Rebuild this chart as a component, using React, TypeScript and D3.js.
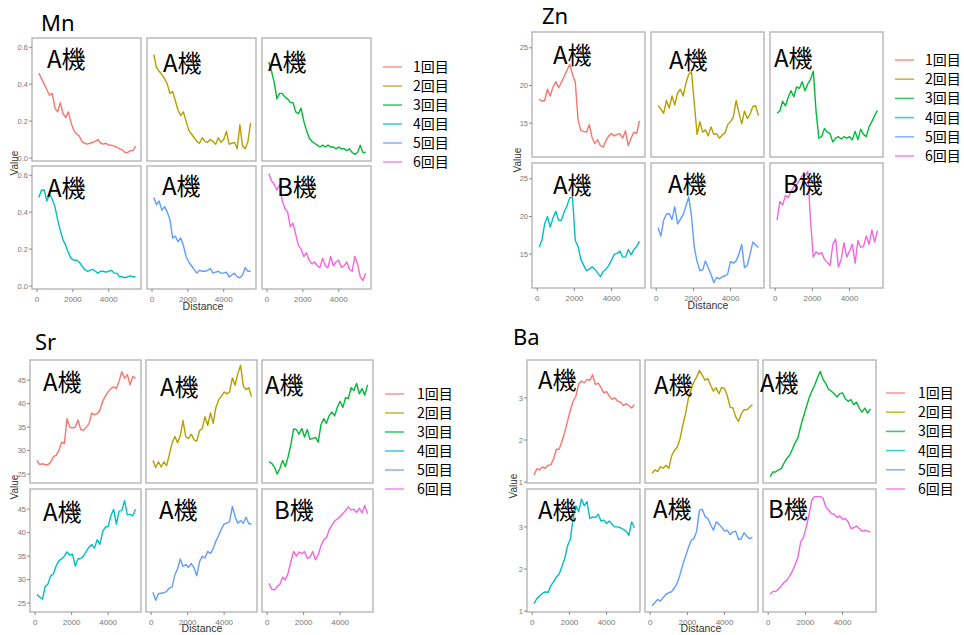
import * as d3 from 'd3'

// distance along the sample (common x for every run)
const distance = [
  100, 250, 400, 550, 700, 850, 1000, 1150, 1300, 1450, 1600, 1750, 1900, 2050, 2200, 2350, 2500, 2650, 2800,
  2950, 3100, 3250, 3400, 3550, 3700, 3850, 4000, 4150, 4300, 4450, 4600, 4750, 4900, 5050, 5200, 5350, 5500,
]

const runs = ['1回目', '2回目', '3回目', '4回目', '5回目', '6回目']
const machines = ['A機', 'A機', 'A機', 'A機', 'A機', 'B機']
const colors = ['#F8766D', '#B79F00', '#00BA38', '#00BFC4', '#619CFF', '#F564E3']
const xTicks = [0, 2000, 4000]

const mnValues = [
  [0.46, 0.43, 0.4, 0.37, 0.34, 0.35, 0.27, 0.25, 0.3, 0.24, 0.22, 0.25, 0.19, 0.15, 0.13, 0.12, 0.09, 0.08, 0.075, 0.08, 0.085, 0.09, 0.1, 0.08, 0.075, 0.08, 0.07, 0.07, 0.065, 0.06, 0.05, 0.045, 0.03, 0.03, 0.04, 0.04, 0.065],
  [0.56, 0.49, 0.47, 0.45, 0.43, 0.4, 0.35, 0.36, 0.31, 0.26, 0.23, 0.25, 0.2, 0.15, 0.13, 0.11, 0.09, 0.08, 0.11, 0.09, 0.085, 0.1, 0.09, 0.075, 0.11, 0.085, 0.1, 0.145, 0.075, 0.08, 0.085, 0.05, 0.18, 0.065, 0.05, 0.09, 0.19],
  [0.52, 0.47, 0.41, 0.32, 0.35, 0.35, 0.33, 0.32, 0.3, 0.3, 0.25, 0.24, 0.27, 0.2, 0.15, 0.11, 0.09, 0.08, 0.07, 0.06, 0.07, 0.06, 0.07, 0.06, 0.06, 0.05, 0.06, 0.05, 0.05, 0.04, 0.05, 0.03, 0.02, 0.03, 0.07, 0.03, 0.03],
  [0.48, 0.52, 0.52, 0.46, 0.5, 0.47, 0.43, 0.36, 0.3, 0.25, 0.22, 0.18, 0.15, 0.14, 0.14, 0.13, 0.11, 0.09, 0.08, 0.085, 0.09, 0.08, 0.07, 0.08, 0.08, 0.075, 0.08, 0.085, 0.07, 0.07, 0.05, 0.05, 0.045, 0.05, 0.055, 0.05, 0.05],
  [0.48, 0.44, 0.46, 0.41, 0.43, 0.4, 0.36, 0.26, 0.27, 0.24, 0.26, 0.22, 0.16, 0.13, 0.11, 0.09, 0.07, 0.085, 0.08, 0.08, 0.085, 0.095, 0.07, 0.075, 0.08, 0.07, 0.07, 0.075, 0.05, 0.06, 0.07, 0.05, 0.045, 0.06, 0.1, 0.08, 0.08],
  [0.61, 0.57, 0.55, 0.52, 0.55, 0.46, 0.42, 0.4, 0.32, 0.34, 0.28, 0.22, 0.2, 0.16, 0.18, 0.14, 0.12, 0.13, 0.11, 0.1, 0.15, 0.11, 0.1, 0.16, 0.11, 0.13, 0.14, 0.1, 0.11, 0.13, 0.09, 0.08, 0.16, 0.12, 0.05, 0.03, 0.07],
]

const znValues = [
  [18.2, 17.9, 18.0, 19.5, 18.6, 19.8, 20.5, 19.7, 20.4, 21.2, 22.0, 22.8, 21.5, 20.4, 15.4, 14.0, 13.9, 13.8, 14.8, 13.1, 12.3, 12.8, 12.0, 11.8, 12.7, 13.3, 13.6, 13.3, 13.5, 13.6, 13.0, 14.0, 12.0, 13.0, 13.8, 13.6, 15.3],
  [17.3, 16.9, 16.3, 18.0, 17.0, 18.6, 17.4, 19.0, 19.5, 18.6, 20.3, 21.5, 21.8, 17.6, 13.5, 15.2, 13.8, 14.1, 13.3, 14.5, 13.5, 13.6, 13.0, 13.4, 13.7, 14.8, 15.2, 15.8, 18.0, 16.4, 14.9, 16.6, 15.6, 16.2, 17.2, 17.3, 16.0],
  [16.3, 16.6, 17.9, 17.3, 18.4, 19.3, 18.5, 19.8, 19.6, 20.5, 19.3, 20.2, 20.8, 21.9, 16.5, 13.0, 13.2, 14.3, 13.8, 13.6, 12.5, 13.0, 13.2, 12.9, 13.2, 13.0, 13.2, 12.8, 13.9, 12.8, 14.2, 13.5, 13.2, 14.5, 15.2, 16.0, 16.7],
  [15.9, 16.8, 19.0, 20.0, 18.6, 19.8, 20.7, 19.5, 19.5, 20.6, 21.4, 22.5, 22.5, 16.8, 16.0, 14.3, 13.5, 12.8, 13.0, 13.3, 13.0, 12.5, 12.0, 12.7, 13.0, 13.5, 14.2, 15.0, 15.1, 15.4, 14.6, 14.6, 15.6, 14.9, 15.6, 16.0, 16.7],
  [18.5, 17.4, 19.5, 20.3, 20.4, 19.6, 21.3, 19.0, 19.6, 20.2, 21.4, 22.6, 20.0, 15.9, 14.0, 12.8, 12.9, 14.1, 13.2, 12.3, 11.2, 11.9, 11.7, 12.0, 12.1, 12.4, 14.0, 13.8, 14.1, 15.0, 16.3, 13.2, 13.5, 15.0, 16.6, 16.2, 15.9],
  [19.5, 22.0, 21.5, 22.8, 22.5, 23.3, 24.0, 24.2, 24.8, 25.4, 25.4, 26.0, 19.5, 14.6, 15.3, 15.0, 15.2, 14.3, 13.9, 13.5, 16.3, 17.0, 13.3, 14.3, 16.5, 14.6, 15.4, 16.3, 13.8, 16.8, 15.9, 16.0, 17.4, 16.3, 18.2, 16.6, 18.1],
]

const srValues = [
  [27.9, 27.0, 27.2, 27.0, 27.0, 27.5, 28.7, 29.0, 30.0, 31.8, 31.5, 36.8, 35.0, 34.8, 35.0, 36.5, 34.5, 34.3, 35.0, 35.7, 38.0, 37.6, 37.9, 38.6, 40.5, 41.6, 42.5, 43.2, 43.6, 43.2, 44.8, 46.8, 45.4, 46.2, 44.0, 45.8, 45.4],
  [27.9, 26.4, 27.6, 26.5, 27.6, 26.8, 29.2, 31.6, 33.0, 31.7, 33.2, 36.4, 32.9, 32.6, 33.5, 32.3, 32.0, 34.2, 34.7, 37.2, 35.4, 38.0, 35.8, 39.2, 40.8, 41.6, 42.5, 42.1, 42.5, 45.5, 43.9, 46.4, 48.2, 43.8, 43.0, 43.4, 41.5],
  [27.6, 27.3, 26.5, 25.0, 26.2, 27.9, 26.6, 28.7, 31.2, 34.6, 34.5, 33.5, 34.7, 32.9, 34.5, 32.4, 32.6, 32.8, 31.8, 35.5, 36.8, 35.8, 37.5, 38.2, 37.4, 39.3, 40.5, 39.2, 41.3, 41.1, 43.4, 42.8, 44.3, 42.1, 43.2, 41.8, 44.0],
  [26.8, 26.3, 25.8, 28.5, 29.0, 30.8, 31.2, 32.9, 34.0, 34.4, 35.0, 35.9, 35.2, 35.4, 32.9, 34.4, 34.5, 35.0, 36.0, 36.9, 37.5, 36.7, 38.5, 37.5, 40.2, 41.2, 41.3, 43.6, 45.0, 41.8, 44.6, 44.7, 46.8, 43.8, 43.9, 43.6, 45.0],
  [27.3, 25.6, 27.0, 27.1, 27.2, 27.5, 28.2, 28.4, 31.0, 32.3, 34.4, 32.8, 33.2, 32.6, 33.4, 32.5, 30.8, 33.8, 35.0, 34.6, 36.0, 35.6, 36.6, 38.2, 39.4, 40.8, 41.8, 42.0, 42.4, 45.6, 43.4, 42.0, 42.6, 42.0, 43.3, 41.9, 41.9],
  [29.2, 28.0, 27.8, 28.5, 29.0, 30.5, 29.9, 31.4, 33.8, 36.0, 35.0, 35.9, 35.5, 36.0, 34.5, 34.8, 36.0, 34.2, 35.3, 37.2, 38.5, 38.9, 40.6, 41.6, 42.5, 42.9, 43.5, 44.1, 44.7, 45.5, 44.8, 45.0, 44.3, 45.2, 44.2, 45.8, 44.0],
]

const baValues = [
  [1.17, 1.32, 1.29, 1.36, 1.33, 1.4, 1.41, 1.55, 1.78, 1.78, 1.97, 2.18, 2.45, 2.7, 2.92, 3.04, 3.33, 3.4, 3.36, 3.44, 3.42, 3.55, 3.32, 3.35, 3.25, 3.12, 3.15, 3.04, 2.97, 3.0, 2.92, 2.9, 2.82, 2.86, 2.82, 2.76, 2.84],
  [1.21, 1.29, 1.25, 1.37, 1.33, 1.4, 1.33, 1.62, 1.75, 1.83, 2.02, 2.34, 2.62, 2.98, 3.2, 3.38, 3.5, 3.65, 3.54, 3.42, 3.46, 3.3, 3.16, 3.24, 3.1, 3.25, 3.22, 3.05, 2.78, 2.76, 2.55, 2.44, 2.62, 2.72, 2.72, 2.78, 2.84],
  [1.13, 1.24, 1.24, 1.29, 1.32, 1.45, 1.56, 1.64, 1.78, 1.94, 2.05, 2.33, 2.56, 2.78, 3.0, 3.16, 3.3, 3.48, 3.63, 3.44, 3.34, 3.2, 3.16, 3.1, 3.02, 3.1, 3.12, 2.98, 2.92, 2.96, 2.84, 2.9, 2.76, 2.66, 2.76, 2.64, 2.74],
  [1.18, 1.3, 1.36, 1.42, 1.46, 1.44, 1.6, 1.7, 1.81, 1.88, 2.06, 2.25, 2.55, 2.7, 3.2, 3.5, 3.36, 3.66, 3.5, 3.6, 3.2, 3.24, 3.22, 3.3, 3.14, 3.16, 3.08, 3.14, 3.06, 3.0, 3.0, 2.98, 2.94, 2.9, 2.8, 3.12, 2.98],
  [1.13, 1.2, 1.28, 1.24, 1.32, 1.4, 1.44, 1.46, 1.55, 1.66, 1.86, 2.1, 2.3, 2.5, 2.68, 2.72, 2.9, 3.4, 3.42, 3.25, 3.2, 3.05, 2.92, 3.12, 3.06, 2.99, 2.9, 2.92, 2.82, 2.88, 2.9, 2.7, 2.72, 2.86, 2.78, 2.72, 2.75],
  [1.4, 1.47, 1.47, 1.52, 1.6, 1.68, 1.73, 1.83, 1.95, 2.1, 2.28, 2.65, 2.75, 3.0, 3.3, 3.64, 3.72, 3.72, 3.72, 3.68, 3.48, 3.4, 3.32, 3.3, 3.22, 3.26, 3.18, 3.2, 3.12, 2.96, 2.98, 3.02, 2.96, 2.9, 2.92, 2.9, 2.88],
]

interface Quad {
  name: string
  values: number[][]
  yDomain: [number, number]
  yTicks: number[]
  fmt: (v: number) => string
  title: [number, number]
  left: number
  top: number
  pw: number
  ph: number
  gx: number
  gy: number
  legend: { lineX: number; textX: number; y: number; step: number }
  valueLab: [number, number]
  distLab: [number, number]
  tags: [number, number][]
}

const quads: Quad[] = [
  {
    name: 'Mn', values: mnValues, yDomain: [-0.016, 0.65], yTicks: [0, 0.2, 0.4, 0.6], fmt: d3.format('.1f'),
    title: [41, 31], left: 32, top: 38, pw: 109, ph: 123, gx: 6, gy: 5,
    legend: { lineX: 383, textX: 413, y: 67, step: 19 },
    valueLab: [14, 163], distLab: [203, 306],
    tags: [[47, 68], [163, 72], [268, 71], [47, 197], [162, 195], [277, 196]],
  },
  {
    name: 'Zn', values: znValues, yDomain: [10.5, 27.1], yTicks: [15, 20, 25], fmt: d3.format('d'),
    title: [542, 24], left: 532, top: 32, pw: 113, ph: 125, gx: 6, gy: 6,
    legend: { lineX: 895, textX: 925, y: 60, step: 19.2 },
    valueLab: [517, 160], distLab: [708, 305],
    tags: [[553, 64], [669, 69], [774, 67], [553, 194], [668, 193], [783, 193]],
  },
  {
    name: 'Sr', values: srValues, yDomain: [23.1, 49.3], yTicks: [25, 30, 35, 40, 45], fmt: d3.format('d'),
    title: [35, 350], left: 30, top: 360, pw: 111, ph: 123, gx: 5, gy: 6,
    legend: { lineX: 385, textX: 417, y: 394, step: 19 },
    valueLab: [14, 487], distLab: [202, 628],
    tags: [[43, 391], [160, 396], [265, 394], [43, 521], [159, 519], [274, 519]],
  },
  {
    name: 'Ba', values: baValues, yDomain: [0.98, 3.9], yTicks: [1, 2, 3], fmt: d3.format('d'),
    title: [513, 345], left: 527, top: 360, pw: 113, ph: 123, gx: 5, gy: 6,
    legend: { lineX: 886, textX: 918, y: 393, step: 19.2 },
    valueLab: [513, 486], distLab: [701, 628],
    tags: [[538, 389], [654, 394], [760, 392], [538, 519], [653, 518], [768, 518]],
  },
]

const sans = '"Liberation Sans", Arial, sans-serif'
const cjk = '"Noto Sans CJK JP", "Noto Sans", sans-serif'

const Facets = ({ q }: { q: Quad }) => {
  const x = d3.scaleLinear().domain([-280, 5800]).range([0, q.pw])
  const y = d3.scaleLinear().domain(q.yDomain).range([q.ph, 0])
  const line = d3
    .line<number>()
    .x((_, i) => x(distance[i]))
    .y((d) => y(d))

  return (
    <g>
      <text x={q.title[0]} y={q.title[1]} fontFamily='"Noto Sans", sans-serif' fontSize={22} fill="#000">
        {q.name}
      </text>

      {q.values.map((vals, i) => {
        const col = i % 3
        const row = Math.floor(i / 3)
        const px = q.left + col * (q.pw + q.gx)
        const py = q.top + row * (q.ph + q.gy)
        return (
          <g key={i} transform={`translate(${px},${py})`}>
            <rect width={q.pw} height={q.ph} fill="#fff" stroke="#b5b5b5" strokeWidth={1.4} />
            <path d={line(vals) ?? ''} fill="none" stroke={colors[i]} strokeWidth={1.4} strokeLinejoin="round" />
            {col === 0 &&
              q.yTicks.map((t) => (
                <g key={t} transform={`translate(0,${y(t)})`}>
                  <line x1={-3} x2={0} stroke="#888" />
                  <text x={-4} dy="0.35em" textAnchor="end" fontFamily={sans} fontSize={7.5} fill="#777">
                    {q.fmt(t)}
                  </text>
                </g>
              ))}
            {row === 1 &&
              xTicks.map((t) => (
                <g key={t} transform={`translate(${x(t)},${q.ph})`}>
                  <line y1={0} y2={3} stroke="#888" />
                  <text y={10} dy="0.35em" textAnchor="middle" fontFamily={sans} fontSize={8} fill="#777">
                    {t}
                  </text>
                </g>
              ))}
          </g>
        )
      })}

      <text
        transform={`translate(${q.valueLab[0]},${q.valueLab[1]}) rotate(-90)`}
        textAnchor="middle"
        dy="0.35em"
        fontFamily={sans}
        fontSize={10}
        fill="#333"
      >
        Value
      </text>
      <text x={q.distLab[0]} y={q.distLab[1]} dy="0.35em" textAnchor="middle" fontFamily={sans} fontSize={10.5} fill="#333">
        Distance
      </text>

      {runs.map((r, i) => {
        const ly = q.legend.y + i * q.legend.step
        return (
          <g key={r}>
            <line x1={q.legend.lineX} x2={q.legend.lineX + 19} y1={ly} y2={ly} stroke={colors[i]} strokeOpacity={0.75} strokeWidth={1.6} />
            <text x={q.legend.textX} y={ly} dy="0.36em" fontFamily={cjk} fontSize={14} fill="#000">
              {r}
            </text>
          </g>
        )
      })}

      {q.tags.map(([tx, ty], i) => (
        <text key={i} x={tx} y={ty} fontFamily={cjk} fontSize={24} fill="#000">
          {machines[i]}
        </text>
      ))}
    </g>
  )
}

export default function App() {
  return (
    <svg width={964} height={635} style={{ position: 'absolute', left: 0, top: 0, background: '#fff' }}>
      <rect width={964} height={635} fill="#fff" />
      {quads.map((q) => (
        <Facets key={q.name} q={q} />
      ))}
    </svg>
  )
}
